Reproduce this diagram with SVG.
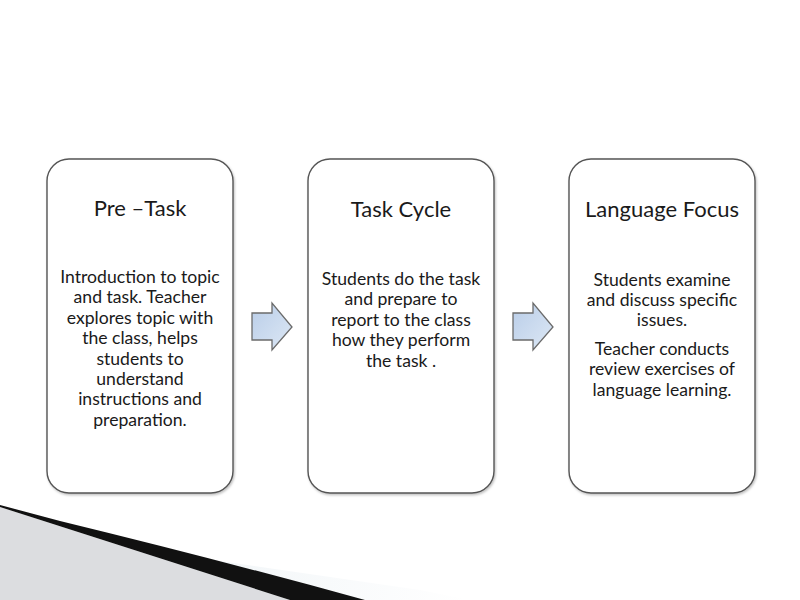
<svg xmlns="http://www.w3.org/2000/svg" width="800" height="600" viewBox="0 0 800 600">
<defs>
<linearGradient id="ag" x1="0" y1="0" x2="1" y2="1">
<stop offset="0" stop-color="#b9cde8"/>
<stop offset="1" stop-color="#dde8f5"/>
</linearGradient>
<linearGradient id="bg2" x1="0" y1="0" x2="1" y2="0">
<stop offset="0" stop-color="#eef3f6"/>
<stop offset="1" stop-color="#ffffff"/>
</linearGradient>
<filter id="sh" x="-10%" y="-10%" width="120%" height="120%">
<feDropShadow dx="1" dy="1.5" stdDeviation="1.2" flood-color="#000" flood-opacity="0.25"/>
</filter>
</defs>
<style>
.box{fill:#ffffff;stroke:#555555;stroke-width:1.4}
.title{font-family:Lato,"Open Sans",sans-serif;font-size:22px;fill:#1a1a1a;text-anchor:middle}
.body{font-family:Lato,"Open Sans",sans-serif;font-size:17.6px;fill:#1a1a1a;text-anchor:middle}
.arrow{fill:url(#ag);stroke:#6b6b6b;stroke-width:1.3}
</style>
<rect width="800" height="600" fill="#ffffff"/>
<g id="decoration">
<polygon points="130,548 420,590 470,600 280,600" fill="url(#bg2)"/>
<polygon points="0,507 290,600 0,600" fill="#dcdde0"/>
<path d="M0,505 L60,521 Q220,560 365,600 L290,600 L0,507 Z" fill="#111111"/>
</g>
<g id="node-pretask">
<rect class="box" x="47" y="159" width="186" height="334" rx="22" filter="url(#sh)"/>
<text class="title" x="140" y="216">Pre –Task</text>
<text class="body" x="140" y="283">Introduction to topic</text>
<text class="body" x="140" y="303">and task. Teacher</text>
<text class="body" x="140" y="324">explores topic with</text>
<text class="body" x="140" y="344">the class, helps</text>
<text class="body" x="140" y="365">students to</text>
<text class="body" x="140" y="385">understand</text>
<text class="body" x="140" y="405">instructions and</text>
<text class="body" x="140" y="426">preparation.</text>
</g>
<g id="node-taskcycle">
<rect class="box" x="308" y="159" width="186" height="334" rx="22" filter="url(#sh)"/>
<text class="title" x="401" y="217">Task Cycle</text>
<text class="body" x="401" y="285">Students do the task</text>
<text class="body" x="401" y="305">and prepare to</text>
<text class="body" x="401" y="326">report to the class</text>
<text class="body" x="401" y="346">how they perform</text>
<text class="body" x="401" y="367">the task .</text>
</g>
<g id="node-languagefocus">
<rect class="box" x="569" y="159" width="186" height="334" rx="22" filter="url(#sh)"/>
<text class="title" x="662" y="217">Language Focus</text>
<text class="body" x="662" y="286">Students examine</text>
<text class="body" x="662" y="306">and discuss specific</text>
<text class="body" x="662" y="326">issues.</text>
<text class="body" x="662" y="355">Teacher conducts</text>
<text class="body" x="662" y="375">review exercises of</text>
<text class="body" x="662" y="396">language learning.</text>
</g>
<g id="connectors">
<polygon class="arrow" points="252,313 272,313 272,303 292,327 272,350 272,340 252,340"/>
<polygon class="arrow" points="513,313 533,313 533,303 553,327 533,350 533,340 513,340"/>
</g>
</svg>
